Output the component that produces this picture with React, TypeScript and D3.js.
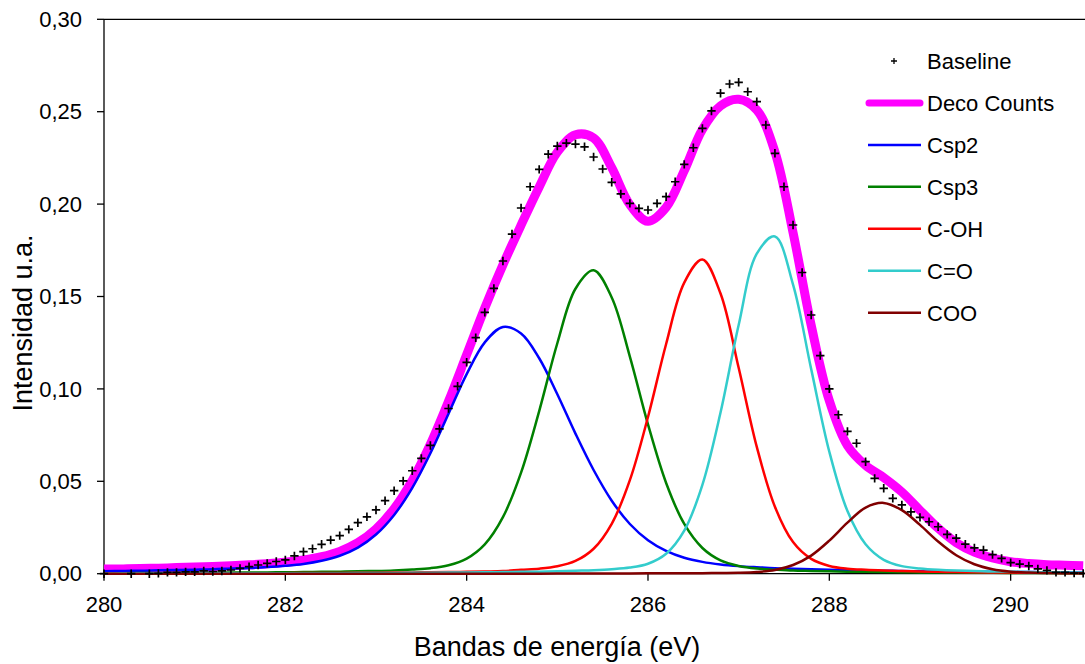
import * as d3 from 'd3'

// energy grid of the fitted curves (eV)
const energy = [
  280, 280.2, 280.4, 280.6, 280.8, 281, 281.2, 281.4, 281.6, 281.8,
  282, 282.2, 282.4, 282.6, 282.8, 283, 283.2, 283.4, 283.6, 283.8,
  284, 284.2, 284.4, 284.6, 284.8, 285, 285.2, 285.4, 285.6, 285.8,
  286, 286.2, 286.4, 286.6, 286.8, 287, 287.2, 287.4, 287.6, 287.8,
  288, 288.2, 288.4, 288.6, 288.8, 289, 289.2, 289.4, 289.6, 289.8,
  290, 290.2, 290.4, 290.6, 290.8,
]

const decoCounts = [
  0.0025, 0.0026, 0.0028, 0.003, 0.0033, 0.0036, 0.0039, 0.0043, 0.0048, 0.0054,
  0.0062, 0.0074, 0.0092, 0.0121, 0.0168, 0.0242, 0.0352, 0.0505, 0.0701, 0.0933,
  0.1185, 0.1438, 0.1671, 0.1886, 0.2093, 0.2281, 0.2375, 0.2358, 0.2197, 0.1997,
  0.1907, 0.1982, 0.2181, 0.2404, 0.2532, 0.2567, 0.2509, 0.2283, 0.1846, 0.1344,
  0.0936, 0.0693, 0.0586, 0.052, 0.0442, 0.0343, 0.0246, 0.0168, 0.0117, 0.0085,
  0.0065, 0.0055, 0.0049, 0.0046, 0.0043,
]

const csp2 = [
  0.0013, 0.0015, 0.0016, 0.0018, 0.002, 0.0022, 0.0024, 0.0028, 0.0031, 0.0036,
  0.0043, 0.0053, 0.007, 0.0097, 0.0141, 0.0212, 0.0318, 0.0465, 0.0652, 0.0866,
  0.108, 0.1252, 0.1335, 0.13, 0.1166, 0.0971, 0.0758, 0.0561, 0.0395, 0.0269,
  0.0181, 0.0123, 0.0086, 0.0064, 0.005, 0.0041, 0.0035, 0.003, 0.0027, 0.0024,
  0.0022, 0.0019, 0.0018, 0.0016, 0.0015, 0.0013, 0.0012, 0.0011, 0.0011, 0.001,
  0.0009, 0.0009, 0.0008, 0.0008, 0.0007,
]

const csp3 = [
  0.0003, 0.0003, 0.0004, 0.0004, 0.0004, 0.0005, 0.0005, 0.0006, 0.0006, 0.0007,
  0.0008, 0.0009, 0.001, 0.0011, 0.0013, 0.0015, 0.0018, 0.0023, 0.003, 0.0046,
  0.0082, 0.0159, 0.0306, 0.0547, 0.088, 0.1247, 0.1542, 0.1642, 0.1495, 0.1175,
  0.0808, 0.0491, 0.0269, 0.0139, 0.0072, 0.0042, 0.0028, 0.0022, 0.0017, 0.0015,
  0.0013, 0.0011, 0.001, 0.0009, 0.0008, 0.0007, 0.0006, 0.0006, 0.0005, 0.0005,
  0.0004, 0.0004, 0.0004, 0.0003, 0.0003,
]

const cOH = [
  0.0002, 0.0002, 0.0002, 0.0002, 0.0002, 0.0002, 0.0002, 0.0003, 0.0003, 0.0003,
  0.0003, 0.0004, 0.0004, 0.0004, 0.0005, 0.0005, 0.0006, 0.0007, 0.0008, 0.0009,
  0.001, 0.0012, 0.0014, 0.0021, 0.0027, 0.004, 0.0069, 0.0135, 0.027, 0.0506,
  0.0848, 0.1243, 0.1575, 0.17, 0.1516, 0.1114, 0.0686, 0.0362, 0.0171, 0.008,
  0.0042, 0.0027, 0.0021, 0.0017, 0.0014, 0.0012, 0.001, 0.0009, 0.0008, 0.0007,
  0.0006, 0.0005, 0.0005, 0.0004, 0.0004,
]

const cO = [
  0.0001, 0.0002, 0.0002, 0.0002, 0.0002, 0.0002, 0.0002, 0.0002, 0.0002, 0.0003,
  0.0003, 0.0003, 0.0003, 0.0003, 0.0004, 0.0004, 0.0004, 0.0005, 0.0005, 0.0006,
  0.0007, 0.0008, 0.0009, 0.001, 0.0011, 0.0013, 0.0016, 0.0019, 0.0024, 0.0033,
  0.0054, 0.0108, 0.0233, 0.0481, 0.0872, 0.1346, 0.1732, 0.1825, 0.1564, 0.1107,
  0.066, 0.0339, 0.0159, 0.0075, 0.0041, 0.0028, 0.0021, 0.0017, 0.0015, 0.0012,
  0.0011, 0.0009, 0.0008, 0.0007, 0.0006,
]

const coo = [
  0, 0, 0, 0, 0, 0, 0, 0, 0, 0,
  0, 0, 0, 0, 0, 0, 0, 0, 0, 0,
  0, 0, 0, 0, 0, 0.0001, 0.0001, 0.0001, 0.0001, 0.0001,
  0.0002, 0.0002, 0.0002, 0.0003, 0.0004, 0.0005, 0.0009, 0.002, 0.0047, 0.0098,
  0.0179, 0.0276, 0.0358, 0.0383, 0.0344, 0.0264, 0.0174, 0.01, 0.0051, 0.0024,
  0.0011, 0.0006, 0.0004, 0.0003, 0.0003,
]

// measured points ("Baseline" markers)
const measuredEnergy = [
  280, 280.3, 280.5, 280.6, 280.7, 280.8, 280.9, 281, 281.1, 281.2,
  281.3, 281.4, 281.5, 281.6, 281.7, 281.8, 281.9, 282, 282.1, 282.2,
  282.3, 282.4, 282.5, 282.6, 282.7, 282.8, 282.9, 283, 283.1, 283.2,
  283.3, 283.4, 283.5, 283.6, 283.7, 283.8, 283.9, 284, 284.1, 284.2,
  284.3, 284.4, 284.5, 284.6, 284.7, 284.8, 284.9, 285, 285.1, 285.2,
  285.3, 285.4, 285.5, 285.6, 285.7, 285.8, 285.9, 286, 286.1, 286.2,
  286.3, 286.4, 286.5, 286.6, 286.7, 286.8, 286.9, 287, 287.1, 287.2,
  287.3, 287.4, 287.5, 287.6, 287.7, 287.8, 287.9, 288, 288.1, 288.2,
  288.3, 288.4, 288.5, 288.6, 288.7, 288.8, 288.9, 289, 289.1, 289.2,
  289.3, 289.4, 289.5, 289.6, 289.7, 289.8, 289.9, 290, 290.1, 290.2,
  290.3, 290.4, 290.5, 290.6, 290.7, 290.8,
]

const measuredCounts = [
  0, 0, 0, 0.0002, 0.0007, 0.0007, 0.001, 0.001, 0.0015, 0.0012,
  0.0015, 0.002, 0.0029, 0.0038, 0.0047, 0.0056, 0.0066, 0.0075, 0.0096, 0.0119,
  0.0135, 0.0159, 0.0182, 0.0206, 0.024, 0.0276, 0.0308, 0.0345, 0.0395, 0.0449,
  0.0502, 0.0557, 0.0624, 0.0694, 0.0784, 0.0894, 0.1014, 0.1144, 0.1277, 0.1414,
  0.1544, 0.1692, 0.1838, 0.1979, 0.2094, 0.2188, 0.227, 0.2314, 0.233, 0.2325,
  0.231, 0.2255, 0.219, 0.2118, 0.2055, 0.2004, 0.1977, 0.1968, 0.2004, 0.204,
  0.2121, 0.2215, 0.2305, 0.241, 0.2504, 0.26, 0.265, 0.2659, 0.2608, 0.2554,
  0.2428, 0.2275, 0.2094, 0.1887, 0.163, 0.14, 0.118, 0.1, 0.086, 0.077,
  0.0706, 0.0606, 0.0516, 0.0462, 0.0408, 0.0372, 0.0335, 0.0305, 0.0281, 0.0254,
  0.0213, 0.0192, 0.016, 0.014, 0.0128, 0.0103, 0.0083, 0.006, 0.0052, 0.0042,
  0.0026, 0.0018, 0.0007, 0.0007, 0.0003, 0.0002,
]

const xTicks = [280, 282, 284, 286, 288, 290]
const yTicks = [0, 0.05, 0.1, 0.15, 0.2, 0.25, 0.3]

const components = [
  { name: 'Csp2', values: csp2, color: '#0000FF' },
  { name: 'Csp3', values: csp3, color: '#008000' },
  { name: 'C-OH', values: cOH, color: '#FF0000' },
  { name: 'C=O', values: cO, color: '#33CCCC' },
  { name: 'COO', values: coo, color: '#800000' },
]

const W = 1085
const H = 664
const FONT = '"Liberation Sans", Arial, Helvetica, sans-serif'

const x = d3.scaleLinear().domain([280, 290.82]).range([104, 1085])
const y = d3.scaleLinear().domain([0, 0.3]).range([573.7, 19.3])

const line = d3
  .line<number>()
  .x((_, i) => x(energy[i]))
  .y((d) => y(d))
  .curve(d3.curveCatmullRom.alpha(0.5))

const plus = (cx: number, cy: number, r: number) =>
  `M${cx - r},${cy}H${cx + r}M${cx},${cy - r}V${cy + r}`

const fmt = (v: number) => d3.format('.2f')(v).replace('.', ',')

export default function App() {
  const [x0, x1] = x.range()
  const [y0, y1] = y.range()
  const legendRows = ['Baseline', 'Deco Counts', ...components.map((c) => c.name)]

  return (
    <svg
      width={W}
      height={H}
      style={{ position: 'absolute', left: 0, top: 0, background: '#fff' }}
      fontFamily={FONT}
    >
      {/* frame */}
      <line x1={x0} x2={x1} y1={y1} y2={y1} stroke="#000" strokeWidth={1.3} />
      <line x1={x0} x2={x0} y1={y1} y2={y0} stroke="#000" strokeWidth={1.3} />
      <line x1={x0} x2={x1} y1={y0} y2={y0} stroke="#000" strokeWidth={1.3} />

      {yTicks.map((t) => (
        <g key={t}>
          <line x1={x0 - 7} x2={x0} y1={y(t)} y2={y(t)} stroke="#000" strokeWidth={1.3} />
          <text x={82} y={y(t)} dy="0.35em" textAnchor="end" fontSize={22}>
            {fmt(t)}
          </text>
        </g>
      ))}
      {xTicks.map((t) => (
        <g key={t}>
          <line x1={x(t)} x2={x(t)} y1={y0} y2={y0 + 7} stroke="#000" strokeWidth={1.3} />
          <text x={x(t)} y={612} textAnchor="middle" fontSize={22}>
            {t}
          </text>
        </g>
      ))}

      <text x={557} y={656} textAnchor="middle" fontSize={27}>
        Bandas de energía (eV)
      </text>
      <text transform="translate(32,323) rotate(-90)" textAnchor="middle" fontSize={27}>
        Intensidad u.a.
      </text>

      {/* fitted envelope */}
      <path d={line(decoCounts) ?? ''} fill="none" stroke="#FF00FF" strokeWidth={9} strokeLinejoin="round" />

      {components.map((c) => (
        <path key={c.name} d={line(c.values) ?? ''} fill="none" stroke={c.color} strokeWidth={2.5} />
      ))}

      {/* measured points */}
      <path
        d={measuredCounts.map((v, i) => plus(x(measuredEnergy[i]), y(v), 4.2)).join('')}
        stroke="#000"
        strokeWidth={1.7}
        fill="none"
      />

      {/* legend */}
      {legendRows.map((name, i) => {
        const ry = 61 + i * 41.95
        const comp = components.find((c) => c.name === name)
        return (
          <g key={name}>
            {i === 0 && <path d={plus(894, ry, 3)} stroke="#000" strokeWidth={1.3} />}
            {i === 1 && (
              <line x1={869} x2={920} y1={ry} y2={ry} stroke="#FF00FF" strokeWidth={7} strokeLinecap="round" />
            )}
            {comp && <line x1={868} x2={921} y1={ry} y2={ry} stroke={comp.color} strokeWidth={2.5} />}
            <text x={927} y={ry} dy="0.36em" fontSize={22}>
              {name}
            </text>
          </g>
        )
      })}
    </svg>
  )
}
